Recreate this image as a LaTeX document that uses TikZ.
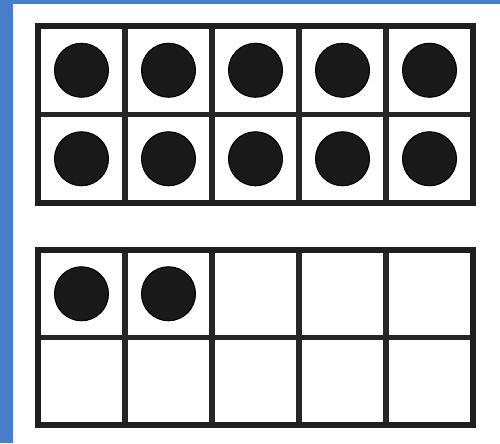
\documentclass[tikz,border=0pt]{standalone}
\usetikzlibrary{positioning}
\definecolor{edgeblue}{HTML}{4A7DC9}

\begin{document}
\begin{tikzpicture}[x=0.02cm, y=-0.02cm,
  cell/.style={draw=black!85, line width=3.1pt, outer sep=0pt,
               minimum width=1.74cm, minimum height=#1},
  cell/.default=1.77cm,
  frame/.style={draw=black!88, line width=3.6pt},
  counter/.style={circle, fill=black!90, draw=black, line width=0.6pt,
                  minimum size=1.08cm, inner sep=0pt},
  strip/.style={fill=edgeblue},
]
\useasboundingbox (0,0) rectangle (500,443);

% ============ PAGE AND BLUE EDGE ============
\fill[white] (0,0) rectangle (500,443);
\fill[strip] (0,0) rectangle (13,443);
\fill[strip] (0,0) rectangle (500,4);

% ============ TOP TEN-FRAME: full (10) ============
\foreach \r in {1,2} {
  \foreach \c in {1,...,5} {
    \node[cell] (a-\r-\c) at ({38+87*(\c-0.5)}, {26+88.5*(\r-0.5)}) {};
    \node[counter] (da-\r-\c) at (a-\r-\c) {};
  }
}
\draw[frame] (a-1-1.north west) rectangle (a-2-5.south east);

% ============ BOTTOM TEN-FRAME: two counters ============
\foreach \r in {1,2} {
  \foreach \c in {1,...,5} {
    \node[cell=1.75cm] (b-\r-\c) at ({38+87*(\c-0.5)}, {250+87.5*(\r-0.5)}) {};
  }
}
\draw[frame] (b-1-1.north west) rectangle (b-2-5.south east);
\node[counter] (db-1) at (b-1-1) {};
\node[counter] (db-2) at (b-1-2) {};

\end{tikzpicture}
\end{document}
